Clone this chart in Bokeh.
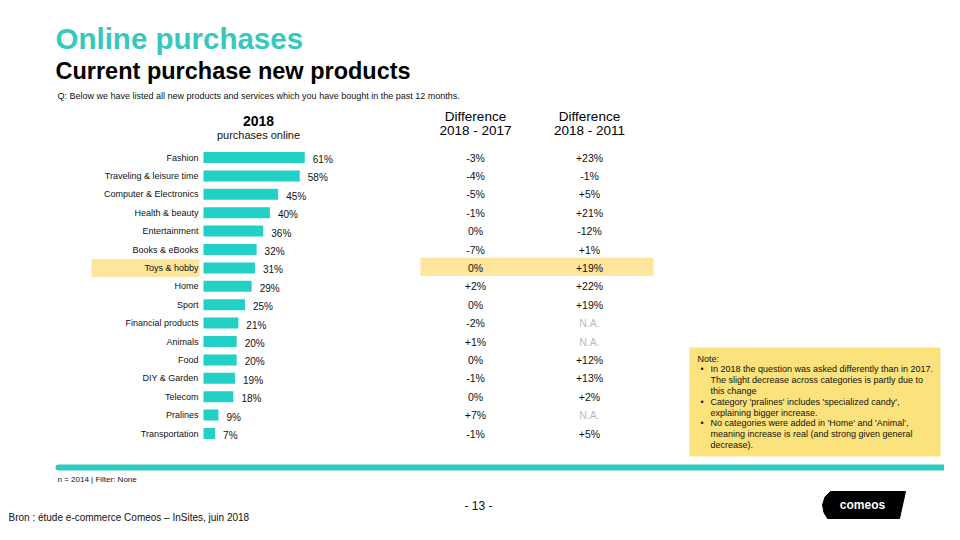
from bokeh.plotting import figure
from bokeh.models import Range1d, ColumnDataSource
from bokeh.core.properties import value
from bokeh.embed import file_html
from bokeh.resources import INLINE

# ---------------- data ----------------
categories = ["Fashion", "Traveling & leisure time", "Computer & Electronics",
              "Health & beauty", "Entertainment", "Books & eBooks", "Toys & hobby",
              "Home", "Sport", "Financial products", "Animals", "Food",
              "DIY & Garden", "Telecom", "Pralines", "Transportation"]
values_2018 = [61, 58, 45, 40, 36, 32, 31, 29, 25, 21, 20, 20, 19, 18, 9, 7]
diff_2018_2017 = ["-3%", "-4%", "-5%", "-1%", "0%", "-7%", "0%", "+2%", "0%",
                  "-2%", "+1%", "0%", "-1%", "0%", "+7%", "-1%"]
diff_2018_2011 = ["+23%", "-1%", "+5%", "+21%", "-12%", "+1%", "+19%", "+22%",
                  "+19%", "N.A.", "N.A.", "+12%", "+13%", "+2%", "N.A.", "+5%"]
highlighted = "Toys & hobby"

title = "Online purchases"
subtitle = "Current purchase new products"
question = "Q: Below we have listed all new products and services which you have bought in the past 12 months."
note_lines = [
    ("", "Note:"),
    ("•", "In 2018 the question was asked differently than in 2017."),
    ("", "The slight decrease across categories is partly due to"),
    ("", "this change"),
    ("•", "Category 'pralines' includes 'specialized candy',"),
    ("", "explaining bigger increase."),
    ("•", "No categories were added in 'Home' and 'Animal',"),
    ("", "meaning increase is real (and strong given general"),
    ("", "decrease)."),
]

# ---------------- styling ----------------
FONT = value("Liberation Sans")
TEAL = "#22D0C6"
TEAL_TITLE = "#36C8BF"
HL = "#FDE59B"
NOTE_BG = "#FCE27C"

W, H = 944, 524
p = figure(width=W, height=H, output_backend="svg", toolbar_location=None,
           x_range=Range1d(0, W), y_range=Range1d(H, 0),
           min_border=0, outline_line_color=None)
p.axis.visible = False
p.grid.visible = False
p.background_fill_color = "white"
p.border_fill_color = "white"

# scales: percent for bar length, row index for categories
PX0, PX_PER_PCT = 203.0, 1.66
ROW0, ROW_STEP = 157.0, 18.4
p.extra_x_ranges = {"pct": Range1d((0 - PX0) / PX_PER_PCT, (W - PX0) / PX_PER_PCT)}
p.extra_y_ranges = {"rows": Range1d((H - ROW0) / ROW_STEP, (0 - ROW0) / ROW_STEP)}

idx = list(range(len(categories)))
src = ColumnDataSource(dict(y=idx, cat=categories, v=values_2018,
                            lab=[f"{v}%" for v in values_2018],
                            d17=diff_2018_2017, d11=diff_2018_2011,
                            c11=["#BBBBBB" if d == "N.A." else "#111111" for d in diff_2018_2011]))

# highlight row
hi = categories.index(highlighted)
p.quad(left=[91], right=[199], top=[hi - 0.47], bottom=[hi + 0.5],
       y_range_name="rows", fill_color=HL, line_color=None)
p.quad(left=[420], right=[653], top=[hi - 0.55], bottom=[hi + 0.43],
       y_range_name="rows", fill_color=HL, line_color=None)

# bars
p.hbar(y="y", left=0, right="v", height=0.6, source=src, fill_color=TEAL,
       line_color=None, x_range_name="pct", y_range_name="rows")
p.text(x="v", y="y", text="lab", source=src, x_range_name="pct", y_range_name="rows",
       x_offset=8, y_offset=2, text_font=FONT, text_font_size="10px",
       text_baseline="middle", text_align="left", text_color="#111111")
# category labels
p.text(x=198, y="y", text="cat", source=src, y_range_name="rows",
       text_font=FONT, text_font_size="9px", text_baseline="middle",
       text_align="right", text_color="#111111")
# difference columns
p.text(x=475, y="y", text="d17", source=src, y_range_name="rows",
       text_font=FONT, text_font_size="10.5px", text_baseline="middle",
       text_align="center", text_color="#111111")
p.text(x=589, y="y", text="d11", source=src, y_range_name="rows",
       text_font=FONT, text_font_size="10.5px", text_baseline="middle",
       text_align="center", text_color="c11")

# titles
def txt(x, y, s, size, color="#111111", style="normal", align="left", base="middle"):
    p.text(x=[x], y=[y], text=[s], text_font=FONT, text_font_size=size,
           text_color=color, text_font_style=style, text_align=align,
           text_baseline=base)

txt(55, 38, title, "29.5px", TEAL_TITLE, "bold")
txt(55, 70, subtitle, "23.5px", "#000000", "bold")
txt(57, 95, question, "9px")
txt(258, 120, "2018", "14px", "#000000", "bold", "center")
txt(258, 134, "purchases online", "11px", "#111111", "normal", "center")
txt(475, 116, "Difference", "13.5px", "#000000", "normal", "center")
txt(475, 130, "2018 - 2017", "13.5px", "#000000", "normal", "center")
txt(589, 116, "Difference", "13.5px", "#000000", "normal", "center")
txt(589, 130, "2018 - 2011", "13.5px", "#000000", "normal", "center")

# note box
p.quad(left=[689], right=[940], top=[347], bottom=[456], fill_color=NOTE_BG, line_color=None)
for i, (b, s) in enumerate(note_lines):
    yy = 358 + i * 10.8
    if b:
        txt(700, yy, b, "9px")
    txt(697 if i == 0 else 710, yy, s, "9px")

# footer
p.line(x=[58, 960], y=[467, 467], line_width=6, line_color="#2ECBC2", line_cap="round")
txt(57, 479, "n = 2014 | Filter: None", "8px")
txt(478, 505, "- 13 -", "12px", "#111111", "normal", "center")
txt(8, 517, "Bron : étude e-commerce Comeos \u2013 InSites, juin 2018", "10px")

# logo
p.patch(x=[830, 905, 899, 827, 823.5, 822, 824.5],
        y=[491, 491, 518, 518, 512, 504.5, 496.5],
        fill_color="#000000", line_color="#000000")
txt(862, 504, "comeos", "12px", "#FFFFFF", "bold", "center")

open("out.html", "w").write(file_html(p, INLINE))
